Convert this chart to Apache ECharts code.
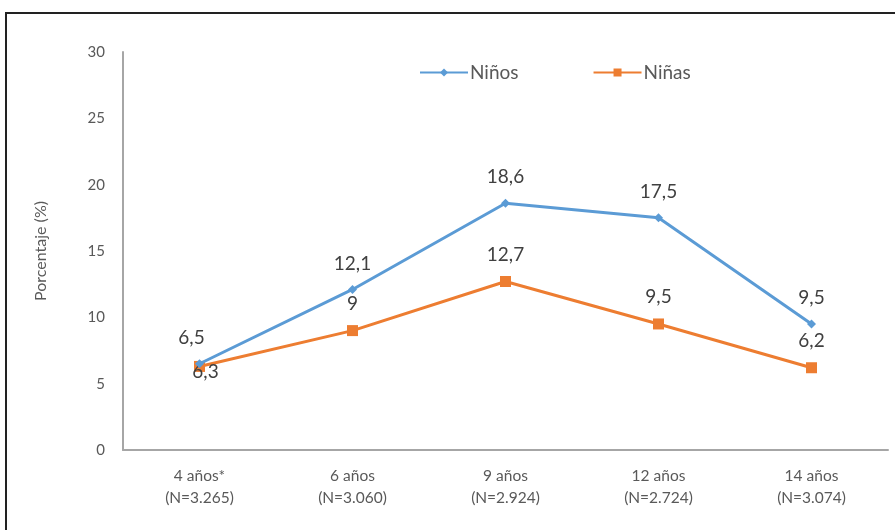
<!DOCTYPE html>
<html>
<head>
<meta charset="utf-8">
<script src="https://cdn.jsdelivr.net/npm/echarts@6/dist/echarts.min.js"></script>
<style>
  html, body { margin: 0; padding: 0; background: #fff; }
  #chart { width: 895px; height: 530px; }
</style>
</head>
<body>
<div id="chart"></div>
<script>
// Age groups (with sample size) on the x axis
const categories = ['4 años*\n(N=3.265)', '6 años\n(N=3.060)', '9 años\n(N=2.924)', '12 años\n(N=2.724)', '14 años\n(N=3.074)'];
// Percentages per sex
const ninos = [6.5, 12.1, 18.6, 17.5, 9.5];
const ninas = [6.3, 9, 12.7, 9.5, 6.2];
const yTicks = [0, 5, 10, 15, 20, 25, 30];

const fmt = v => String(v).replace('.', ',');
const font = 'Lato, "Open Sans", sans-serif';

const chart = echarts.init(document.getElementById('chart'));
chart.setOption({
  animation: false,
  textStyle: { fontFamily: font },
  graphic: [{
    type: 'polyline',
    shape: { points: [[6, 540], [6, 13], [900, 13]] },
    style: { stroke: '#222', lineWidth: 2, fill: null }
  }],
  legend: {
    top: 58, left: 414,
    itemGap: 74, itemWidth: 48, itemHeight: 10,
    textStyle: { fontSize: 19, color: '#595959', fontFamily: font, padding: [0, 0, 0, -3] },
    data: ['Niños', 'Niñas']
  },
  grid: { left: 123, right: 7, top: 52, bottom: 80 },
  xAxis: {
    type: 'category',
    data: categories,
    boundaryGap: true,
    axisLine: { lineStyle: { color: '#a6a6a6', width: 2 } },
    axisTick: { show: false },
    axisLabel: { color: '#595959', fontSize: 15.5, lineHeight: 22, margin: 15 }
  },
  yAxis: {
    type: 'value',
    min: yTicks[0], max: yTicks[yTicks.length - 1], interval: 5,
    name: 'Porcentaje (%)',
    nameLocation: 'middle', nameGap: 74, nameRotate: 90,
    nameTextStyle: { color: '#595959', fontSize: 16 },
    axisLine: { show: true, lineStyle: { color: '#a6a6a6', width: 2 } },
    axisTick: { show: false },
    splitLine: { show: false },
    axisLabel: { color: '#595959', fontSize: 15, margin: 18 }
  },
  series: [
    {
      name: 'Niños', type: 'line', data: ninos,
      color: '#5b9bd5',
      lineStyle: { width: 3 },
      symbol: 'diamond', symbolSize: 9,
      itemStyle: { color: '#5b9bd5' },
      label: {
        show: true, position: 'top', distance: 12,
        fontSize: 19, color: '#404040',
        formatter: p => fmt(p.value)
      },
      labelLayout: p => p.dataIndex === 0 ? { dx: -8 } : {},
      z: 3
    },
    {
      name: 'Niñas', type: 'line', data: ninas,
      color: '#ed7d31',
      lineStyle: { width: 3 },
      symbol: 'rect', symbolSize: 11,
      itemStyle: { color: '#ed7d31' },
      label: {
        show: true, position: 'top', distance: 12,
        fontSize: 19, color: '#404040',
        formatter: p => fmt(p.value)
      },
      labelLayout: p => p.dataIndex === 0 ? { dy: 32, dx: 6 } : {},
      z: 2
    }
  ]
});
</script>
</body>
</html>
